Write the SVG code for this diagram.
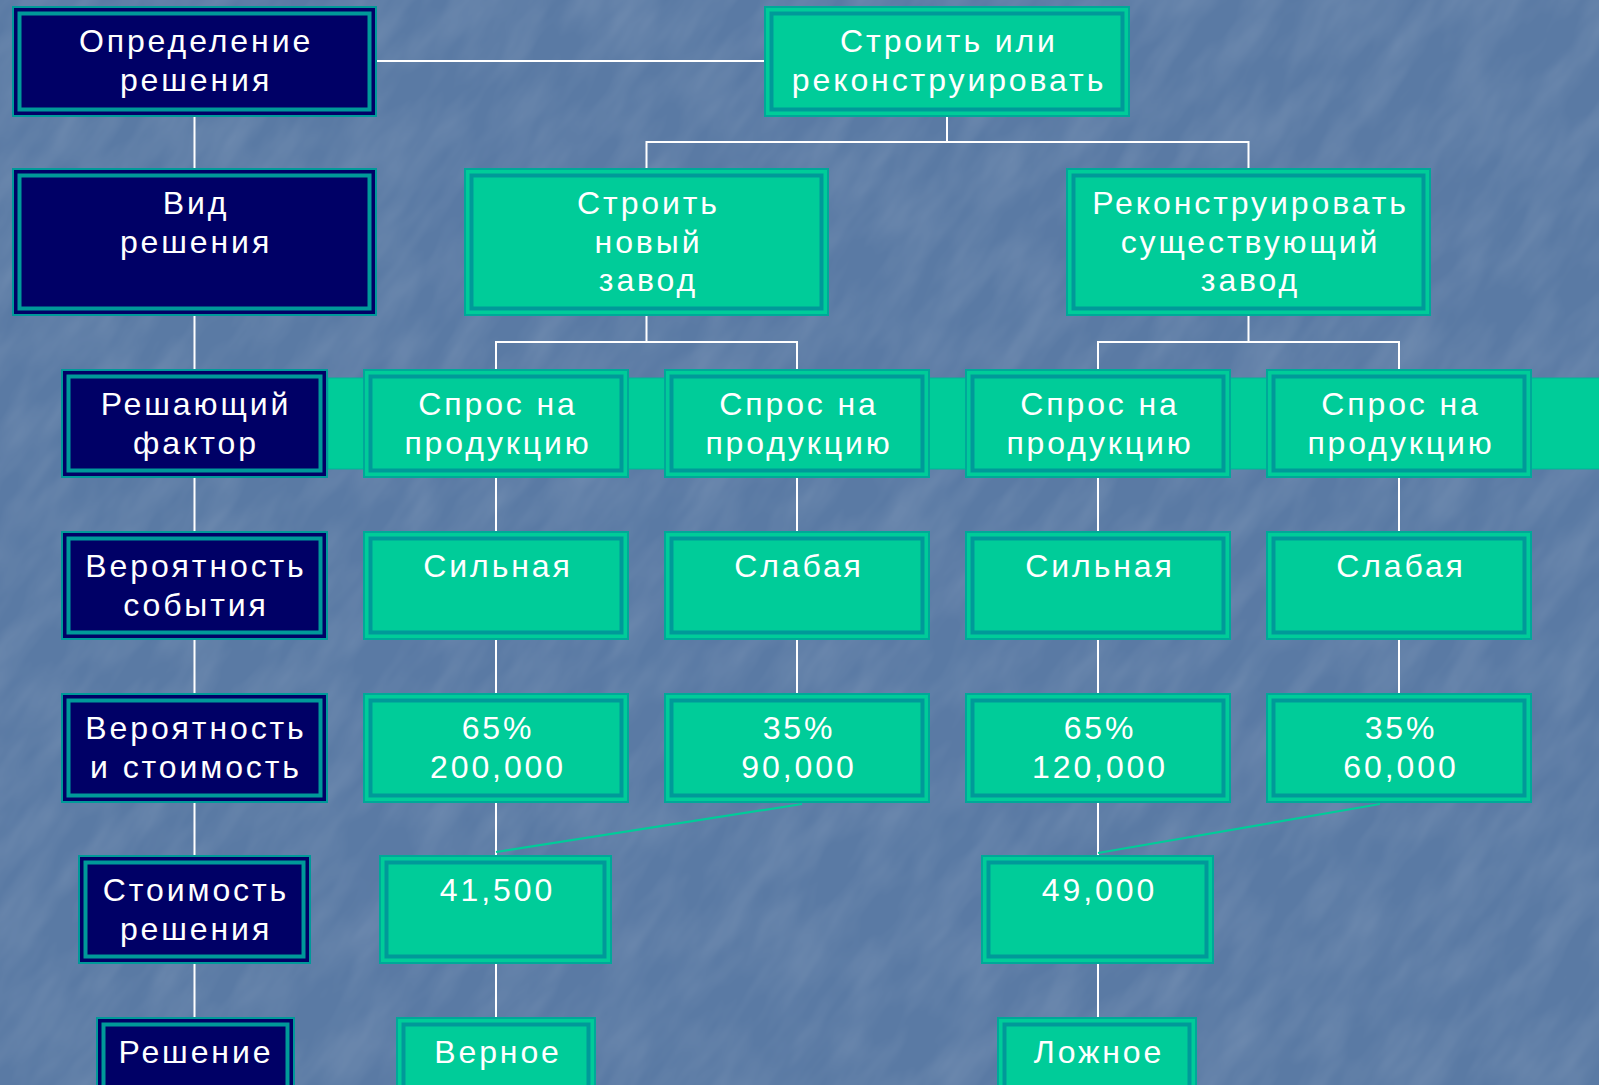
<svg xmlns="http://www.w3.org/2000/svg" width="1599" height="1085" viewBox="0 0 1599 1085">
<defs>
<filter id="tex" x="0" y="0" width="100%" height="100%">
<feTurbulence type="fractalNoise" baseFrequency="0.035 0.012" numOctaves="3" seed="7" result="n"/>
<feColorMatrix in="n" type="matrix" values="0 0 0 0 1  0 0 0 0 1  0 0 0 0 1  0 0 0 0.18 -0.06"/>
</filter>
</defs>
<style>
.bg{fill:#5a7aa4}
.go{fill:#00cc99;stroke:#00a899;stroke-width:2}
.gi{fill:none;stroke:#009999;stroke-width:4}
.no{fill:#000066;stroke:#009999;stroke-width:2}
.ni{fill:none;stroke:#009999;stroke-width:4}
.t{font-family:"Liberation Sans",Arial,sans-serif;font-size:32px;fill:#ffffff;text-anchor:middle;letter-spacing:2.9px}
.c{stroke:#ffffff;stroke-width:2;fill:none}
.d{stroke:#00cc99;stroke-width:2.2;fill:none}
.band{fill:#00cc99;stroke:#00b39a;stroke-width:1}
</style>
<rect class="bg" x="0" y="0" width="1599" height="1085"/>
<g transform="rotate(35 800 542)"><rect x="-600" y="-600" width="2800" height="2300" filter="url(#tex)"/></g>

<g id="band"><rect class="band" x="328" y="378" width="1272" height="91"/></g>

<g id="connectors">
<line class="c" x1="377" y1="61" x2="764" y2="61"/>
<line class="c" x1="194.5" y1="117" x2="194.5" y2="1017"/>
<path class="c" d="M947,117 V142 M646.5,168 V142 H1248.5 V168"/>
<path class="c" d="M646.5,316 V342 M496,369 V342 H797 V369"/>
<path class="c" d="M1248.5,316 V342 M1098,369 V342 H1399 V369"/>
<path class="c" d="M496,478 V531 M797,478 V531 M1098,478 V531 M1399,478 V531"/>
<path class="c" d="M496,640 V693 M797,640 V693 M1098,640 V693 M1399,640 V693"/>
<path class="c" d="M496,803 V855 M1098,803 V855"/>
<path class="c" d="M496,964 V1017 M1098,964 V1017"/>
<line class="d" x1="802" y1="804" x2="496" y2="852"/>
<line class="d" x1="1380" y1="804" x2="1098" y2="853"/>
</g>

<g id="n-opredelenie"><rect class="no" x="13" y="7" width="363" height="109"/><rect class="ni" x="19.5" y="13.5" width="350" height="96"/>
<text class="t" x="196" y="52">Определение</text><text class="t" x="196" y="90.5">решения</text></g>
<g id="n-vid"><rect class="no" x="13" y="169" width="363" height="146"/><rect class="ni" x="19.5" y="175.5" width="350" height="133"/>
<text class="t" x="196" y="214">Вид</text><text class="t" x="196" y="252.5">решения</text></g>
<g id="n-factor"><rect class="no" x="62" y="370" width="265" height="107"/><rect class="ni" x="68.5" y="376.5" width="252" height="94"/>
<text class="t" x="196" y="415">Решающий</text><text class="t" x="196" y="453.5">фактор</text></g>
<g id="n-ver-sob"><rect class="no" x="62" y="532" width="265" height="107"/><rect class="ni" x="68.5" y="538.5" width="252" height="94"/>
<text class="t" x="196" y="577">Вероятность</text><text class="t" x="196" y="615.5">события</text></g>
<g id="n-ver-st"><rect class="no" x="62" y="694" width="265" height="108"/><rect class="ni" x="68.5" y="700.5" width="252" height="95"/>
<text class="t" x="196" y="739">Вероятность</text><text class="t" x="196" y="777.5">и стоимость</text></g>
<g id="n-st-resh"><rect class="no" x="79" y="856" width="231" height="107"/><rect class="ni" x="85.5" y="862.5" width="218" height="94"/>
<text class="t" x="196" y="901">Стоимость</text><text class="t" x="196" y="939.5">решения</text></g>
<g id="n-reshenie"><rect class="no" x="97" y="1018" width="197" height="90"/><rect class="ni" x="103.5" y="1024.5" width="184" height="80"/>
<text class="t" x="196" y="1063">Решение</text></g>

<g id="n-top"><rect class="go" x="765" y="7" width="364" height="109"/><rect class="gi" x="771.5" y="13.5" width="351" height="96"/>
<text class="t" x="949" y="52">Строить или</text><text class="t" x="949" y="90.5">реконструировать</text></g>
<g id="n-new"><rect class="go" x="465" y="169" width="363" height="146"/><rect class="gi" x="471.5" y="175.5" width="350" height="133"/>
<text class="t" x="648.5" y="214">Строить</text><text class="t" x="648.5" y="252.5">новый</text><text class="t" x="648.5" y="291">завод</text></g>
<g id="n-recon"><rect class="go" x="1067" y="169" width="363" height="146"/><rect class="gi" x="1073.5" y="175.5" width="350" height="133"/>
<text class="t" x="1250.5" y="214">Реконструировать</text><text class="t" x="1250.5" y="252.5">существующий</text><text class="t" x="1250.5" y="291">завод</text></g>

<g id="n-spros1"><rect class="go" x="364" y="370" width="264" height="107"/><rect class="gi" x="370.5" y="376.5" width="251" height="94"/>
<text class="t" x="498" y="415">Спрос на</text><text class="t" x="498" y="453.5">продукцию</text></g>
<g id="n-spros2"><rect class="go" x="665" y="370" width="264" height="107"/><rect class="gi" x="671.5" y="376.5" width="251" height="94"/>
<text class="t" x="799" y="415">Спрос на</text><text class="t" x="799" y="453.5">продукцию</text></g>
<g id="n-spros3"><rect class="go" x="966" y="370" width="264" height="107"/><rect class="gi" x="972.5" y="376.5" width="251" height="94"/>
<text class="t" x="1100" y="415">Спрос на</text><text class="t" x="1100" y="453.5">продукцию</text></g>
<g id="n-spros4"><rect class="go" x="1267" y="370" width="264" height="107"/><rect class="gi" x="1273.5" y="376.5" width="251" height="94"/>
<text class="t" x="1401" y="415">Спрос на</text><text class="t" x="1401" y="453.5">продукцию</text></g>

<g id="n-strong1"><rect class="go" x="364" y="532" width="264" height="107"/><rect class="gi" x="370.5" y="538.5" width="251" height="94"/>
<text class="t" x="498" y="577">Сильная</text></g>
<g id="n-weak1"><rect class="go" x="665" y="532" width="264" height="107"/><rect class="gi" x="671.5" y="538.5" width="251" height="94"/>
<text class="t" x="799" y="577">Слабая</text></g>
<g id="n-strong2"><rect class="go" x="966" y="532" width="264" height="107"/><rect class="gi" x="972.5" y="538.5" width="251" height="94"/>
<text class="t" x="1100" y="577">Сильная</text></g>
<g id="n-weak2"><rect class="go" x="1267" y="532" width="264" height="107"/><rect class="gi" x="1273.5" y="538.5" width="251" height="94"/>
<text class="t" x="1401" y="577">Слабая</text></g>

<g id="n-p1"><rect class="go" x="364" y="694" width="264" height="108"/><rect class="gi" x="370.5" y="700.5" width="251" height="95"/>
<text class="t" x="498" y="739">65%</text><text class="t" x="498" y="777.5">200,000</text></g>
<g id="n-p2"><rect class="go" x="665" y="694" width="264" height="108"/><rect class="gi" x="671.5" y="700.5" width="251" height="95"/>
<text class="t" x="799" y="739">35%</text><text class="t" x="799" y="777.5">90,000</text></g>
<g id="n-p3"><rect class="go" x="966" y="694" width="264" height="108"/><rect class="gi" x="972.5" y="700.5" width="251" height="95"/>
<text class="t" x="1100" y="739">65%</text><text class="t" x="1100" y="777.5">120,000</text></g>
<g id="n-p4"><rect class="go" x="1267" y="694" width="264" height="108"/><rect class="gi" x="1273.5" y="700.5" width="251" height="95"/>
<text class="t" x="1401" y="739">35%</text><text class="t" x="1401" y="777.5">60,000</text></g>

<g id="n-v1"><rect class="go" x="380" y="856" width="231" height="107"/><rect class="gi" x="386.5" y="862.5" width="218" height="94"/>
<text class="t" x="497.5" y="901">41,500</text></g>
<g id="n-v2"><rect class="go" x="982" y="856" width="231" height="107"/><rect class="gi" x="988.5" y="862.5" width="218" height="94"/>
<text class="t" x="1099.5" y="901">49,000</text></g>

<g id="n-right"><rect class="go" x="397" y="1018" width="198" height="90"/><rect class="gi" x="403.5" y="1024.5" width="185" height="80"/>
<text class="t" x="498" y="1063">Верное</text></g>
<g id="n-false"><rect class="go" x="998" y="1018" width="198" height="90"/><rect class="gi" x="1004.5" y="1024.5" width="185" height="80"/>
<text class="t" x="1099" y="1063">Ложное</text></g>
</svg>
